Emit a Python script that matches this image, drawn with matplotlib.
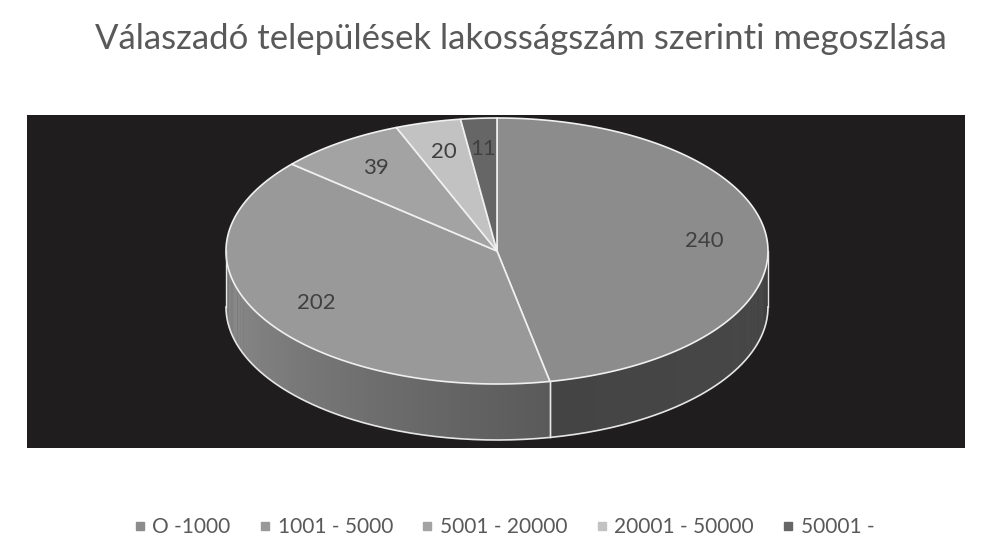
import numpy as np
import matplotlib
matplotlib.use("Agg")
import matplotlib.pyplot as plt
from matplotlib.patches import Polygon
from matplotlib.lines import Line2D

########################
#   DATA
########################

title = "Válaszadó települések lakosságszám szerinti megoszlása"
categories = ["O -1000", "1001 - 5000", "5001 - 20000", "20001 - 50000", "50001 -"]
values = [240, 202, 39, 20, 11]
top_colors = ["#8c8c8c", "#999999", "#a3a3a3", "#c2c2c2", "#666666"]
side_colors = [("#484848", "#444444"), ("#5a5a5a", "#8f8f8f"),
               ("#6a6a6a", "#6a6a6a"), ("#808080", "#808080"), ("#404040", "#404040")]

plt.rcParams['font.family'] = ['Lato', 'DejaVu Sans']

########################
#   GEOMETRY (pixels)
########################

cx, cy = 497, 251      # pie centre
rx, ry = 271, 133      # radii of the top face
depth = 56             # thickness of the 3D side
label_frac = 0.77


def arc(a0, a1, dy=0, n=200):
    t = np.radians(np.linspace(a0, a1, n))
    return np.column_stack([cx + rx * np.sin(t), cy - ry * np.cos(t) + dy])


fig = plt.figure(figsize=(9.9, 5.57), dpi=100)
ax = fig.add_axes([27 / 990, (557 - 448) / 557, 938 / 990, 333 / 557])
ax.set_facecolor("#1f1d1e")
ax.set_xlim(27, 965)
ax.set_ylim(448, 115)
ax.set_xticks([])
ax.set_yticks([])
for s in ax.spines.values():
    s.set_visible(False)

total = sum(values)
bounds = np.concatenate([[0], np.cumsum(values) / total * 360])

# side walls (only the front half, 90..270 deg is visible)
for i in range(len(values)):
    a0, a1 = max(bounds[i], 90), min(bounds[i + 1], 270)
    if a1 <= a0:
        continue
    c0 = np.array(matplotlib.colors.to_rgb(side_colors[i][0]))
    c1 = np.array(matplotlib.colors.to_rgb(side_colors[i][1]))
    steps = np.linspace(a0, a1, int(a1 - a0) + 2)
    for k in range(len(steps) - 1):
        f = k / max(len(steps) - 2, 1)
        top = arc(steps[k], steps[k + 1] + 0.3, 0, 5)
        bot = arc(steps[k + 1] + 0.3, steps[k], depth, 5)
        ax.add_patch(Polygon(np.vstack([top, bot]), closed=True,
                             facecolor=c0 + (c1 - c0) * f, edgecolor="none"))
    # vertical edges of the wall
    for a in (a0, a1):
        p = arc(a, a, 0, 1)[0]
        ax.plot([p[0], p[0]], [p[1], p[1] + depth], color="#e6e6e6", lw=1)

bottom = arc(90, 270, depth)
ax.plot(bottom[:, 0], bottom[:, 1], color="#e6e6e6", lw=1.2)

# top face
for i in range(len(values)):
    pts = np.vstack([[cx, cy], arc(bounds[i], bounds[i + 1])])
    ax.add_patch(Polygon(pts, closed=True, facecolor=top_colors[i],
                         edgecolor="#f0f0f0", lw=1.2, joinstyle="round"))

# value labels
for i, v in enumerate(values):
    mid = np.radians((bounds[i] + bounds[i + 1]) / 2)
    lx = cx + label_frac * rx * np.sin(mid)
    ly = cy - label_frac * ry * np.cos(mid)
    ax.text(lx, ly, str(v), ha="center", va="center", fontsize=16, color="#404040")

fig.text(0.526, 0.93, title, ha="center", va="center", fontsize=25, color="#595959")

handles = [Line2D([], [], marker="s", linestyle="none", markersize=5.5,
                  markerfacecolor=c, markeredgecolor=c) for c in top_colors]
fig.legend(handles, categories, loc="center", bbox_to_anchor=(0.508, 0.054), ncol=5,
           frameon=False, fontsize=15, labelcolor="#595959", handletextpad=0.2,
           columnspacing=1.25, handlelength=0.8)

fig.savefig("out.png", dpi=100, facecolor="white")
